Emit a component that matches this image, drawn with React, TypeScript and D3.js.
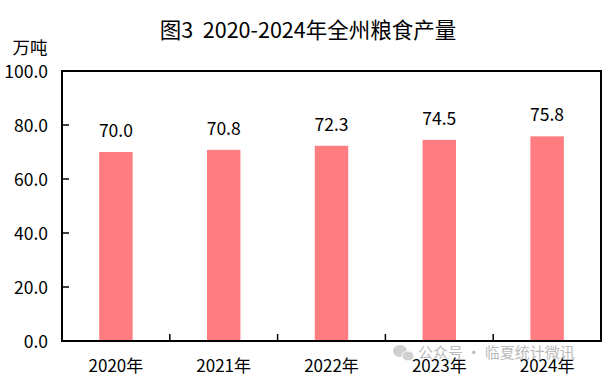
import React from "react";
import * as d3 from "d3";

const years = ["2020年", "2021年", "2022年", "2023年", "2024年"];
const values = [70.0, 70.8, 72.3, 74.5, 75.8];
const yTicks = [0, 20, 40, 60, 80, 100];
const title = "图3\u00a0\u00a02020-2024年全州粮食产量";
const unit = "万吨";
const watermark = "公众号 · 临夏统计微讯";

const W = 604;
const H = 379;
const M = { left: 62, right: 601, top: 71, bottom: 341 };
const FONT = "'Noto Sans CJK SC', 'Noto Sans', sans-serif";

export default function App() {
  const x = d3.scaleBand().domain(years).range([M.left, M.right]).paddingInner(0.69).paddingOuter(0.345);
  const xCat = d3.scaleBand().domain(years).range([M.left, M.right]);
  const y = d3.scaleLinear().domain([0, 100]).range([M.bottom, M.top]);

  return (
    <svg width={W} height={H} style={{ position: "absolute", left: 0, top: 0, background: "#fff" }} fontFamily={FONT}>
      <rect width={W} height={H} fill="#fff" />
      <text x={308} y={38} fontSize={21.5} textAnchor="middle" fill="#000">{title}</text>
      <text x={30} y={54} fontSize={17.5} textAnchor="middle" fill="#000">{unit}</text>
      {yTicks.map((t) => (
        <g key={t}>
          <text x={48} y={y(t) + 6.5} fontSize={17.5} textAnchor="end" fill="#000">{t.toFixed(1)}</text>
          <line x1={M.left} x2={M.left + 7} y1={y(t)} y2={y(t)} stroke="#000" strokeWidth={1.5} />
        </g>
      ))}
      {years.map((c, i) => (
        <g key={c}>
          <rect x={x(c)} y={y(values[i])} width={x.bandwidth()} height={M.bottom - y(values[i])} fill="#FF7C80" />
          <text x={x(c)! + x.bandwidth() / 2} y={y(values[i]) - 15} fontSize={17.5} textAnchor="middle" fill="#000">
            {values[i].toFixed(1)}
          </text>
          <text x={xCat(c)! + xCat.bandwidth() / 2} y={372} fontSize={17} textAnchor="middle" fill="#000">{c}</text>
          {i > 0 && (
            <line x1={xCat(c)} x2={xCat(c)} y1={M.bottom} y2={M.bottom - 7} stroke="#000" strokeWidth={1.5} />
          )}
        </g>
      ))}
      <rect x={M.left} y={M.top} width={M.right - M.left} height={M.bottom - M.top} fill="none" stroke="#000" strokeWidth={2} />
      <g opacity={0.85}>
        <ellipse cx={400} cy={351} rx={7} ry={6} fill="#c8c8c8" />
        <ellipse cx={408} cy={356} rx={6} ry={5} fill="#c8c8c8" stroke="#fff" strokeWidth={1} />
        <text x={418} y={358} fontSize={15} fill="#b0b0b0">{watermark}</text>
      </g>
    </svg>
  );
}
